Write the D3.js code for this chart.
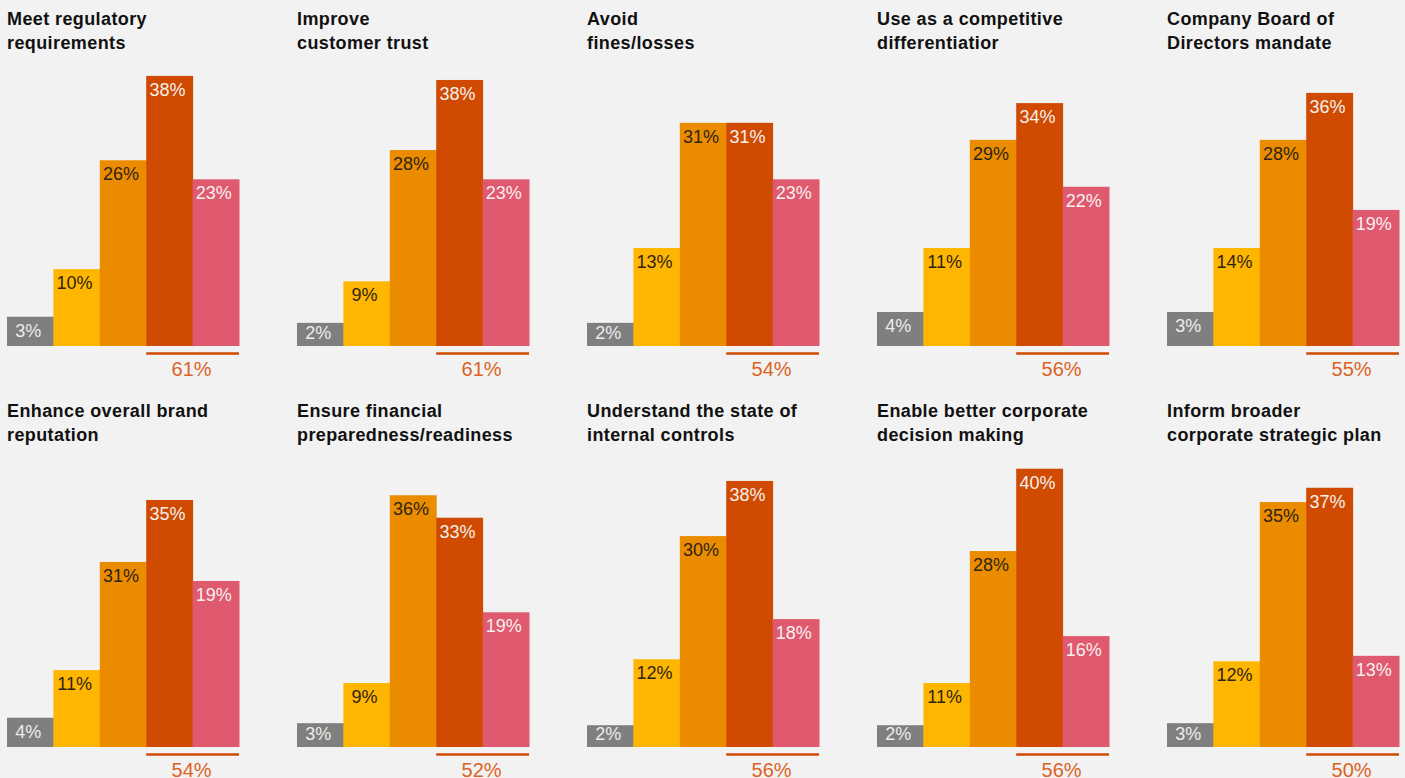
<!DOCTYPE html>
<html>
<head>
<meta charset="utf-8">
<script src="https://cdn.jsdelivr.net/npm/d3@7"></script>
<style>
  html, body { margin: 0; padding: 0; background: #f2f2f2; }
  svg { display: block; font-family: "Liberation Sans", Arial, Helvetica, sans-serif; }
</style>
</head>
<body>
<svg id="chart" width="1405" height="778"></svg>
<script>
// ---- data ----
const titles = [
  ["Meet regulatory", "requirements"],
  ["Improve", "customer trust"],
  ["Avoid", "fines/losses"],
  ["Use as a competitive", "differentiatior"],
  ["Company Board of", "Directors mandate"],
  ["Enhance overall brand", "reputation"],
  ["Ensure financial", "preparedness/readiness"],
  ["Understand the state of", "internal controls"],
  ["Enable better corporate", "decision making"],
  ["Inform broader", "corporate strategic plan"]
];
const levels = ["level1", "level2", "level3", "level4", "level5"];

// printed percentages per panel (level1..level5)
const labelValues = [
  [3, 10, 26, 38, 23],
  [2, 9, 28, 38, 23],
  [2, 13, 31, 31, 23],
  [4, 11, 29, 34, 22],
  [3, 14, 28, 36, 19],
  [4, 11, 31, 35, 19],
  [3, 9, 36, 33, 19],
  [2, 12, 30, 38, 18],
  [2, 11, 28, 40, 16],
  [3, 12, 35, 37, 13]
];
// bar heights as drawn in the source graphic (%)
const drawnValues = [
  [3.0, 10.0, 26.0, 38.4, 23.2],
  [2.1, 8.2, 27.5, 37.8, 23.2],
  [2.1, 13.1, 31.5, 31.5, 23.2],
  [3.7, 13.1, 29.0, 34.4, 22.1],
  [3.7, 13.1, 29.0, 35.9, 18.7],
  [3.0, 10.0, 25.9, 35.0, 23.1],
  [2.2, 8.1, 35.7, 32.4, 18.5],
  [1.9, 11.6, 29.7, 37.8, 17.5],
  [1.9, 8.1, 27.5, 39.6, 15.0],
  [2.2, 11.3, 34.7, 36.8, 12.1]
];
// totals shown under the top two levels
const totals = [61, 61, 54, 56, 55, 54, 52, 56, 56, 50];

// ---- styles / layout ----
const colors = ["#7f7f7f", "#ffb600", "#eb8c00", "#d04a02", "#df5a6e"];
const labelColors = ["#ececec", "#2e2414", "#2e2414", "#f4f0ec", "#f7f0f0"];
const svg = d3.select("#chart");
const W = 1405, H = 778;
svg.append("rect").attr("width", W).attr("height", H).attr("fill", "#f2f2f2");

const cols = 5;
const panelX = d3.scaleBand().domain(d3.range(cols)).range([7, 7 + 290 * cols]).paddingInner(0).paddingOuter(0);
const rowLayout = [
  { titleY: 25, base: 346 },
  { titleY: 417, base: 747 }
];
const barW = 232;
const x = d3.scaleBand().domain(levels).range([0, barW]).padding(0);
const h = d3.scaleLinear().domain([-1.3, 40]).range([0, 281]);

titles.forEach((t, i) => {
  const col = i % cols, row = Math.floor(i / cols);
  const L = rowLayout[row];
  const g = svg.append("g").attr("transform", `translate(${panelX(col)},0)`);

  // title
  const title = g.append("text")
    .attr("x", 0).attr("y", L.titleY)
    .attr("font-size", 18).attr("font-weight", "bold").attr("fill", "#111")
    .attr("letter-spacing", 0.4);
  t.forEach((line, k) => {
    title.append("tspan").attr("x", 0).attr("y", L.titleY + k * 23.5).text(line);
  });

  const data = levels.map((lv, j) => ({ lv, j, v: drawnValues[i][j], label: labelValues[i][j] }));

  g.selectAll("rect.bar").data(data).join("rect")
    .attr("class", "bar")
    .attr("x", d => x(d.lv))
    .attr("y", d => L.base - h(d.v))
    .attr("width", x.bandwidth() + 0.5)
    .attr("height", d => h(d.v))
    .attr("fill", d => colors[d.j]);

  g.selectAll("text.val").data(data).join("text")
    .attr("class", "val")
    .attr("x", d => x(d.lv) + x.bandwidth() / 2 - 2)
    .attr("y", d => Math.min(L.base - h(d.v) + 20, L.base - 7))
    .attr("text-anchor", "middle")
    .attr("font-size", 18)
    .attr("fill", d => labelColors[d.j])
    .text(d => d.label + "%");

  // total underline for top two levels
  const x0 = x(levels[3]), x1 = x(levels[4]) + x.bandwidth();
  g.append("line")
    .attr("x1", x0).attr("x2", x1)
    .attr("y1", L.base + 7.5).attr("y2", L.base + 7.5)
    .attr("stroke", "#d04a02").attr("stroke-width", 2.5);
  g.append("text")
    .attr("x", (x0 + x1) / 2 - 1)
    .attr("y", L.base + 29.5)
    .attr("text-anchor", "middle")
    .attr("font-size", 20)
    .attr("fill", "#dc6325")
    .text(totals[i] + "%");
});
</script>
</body>
</html>
